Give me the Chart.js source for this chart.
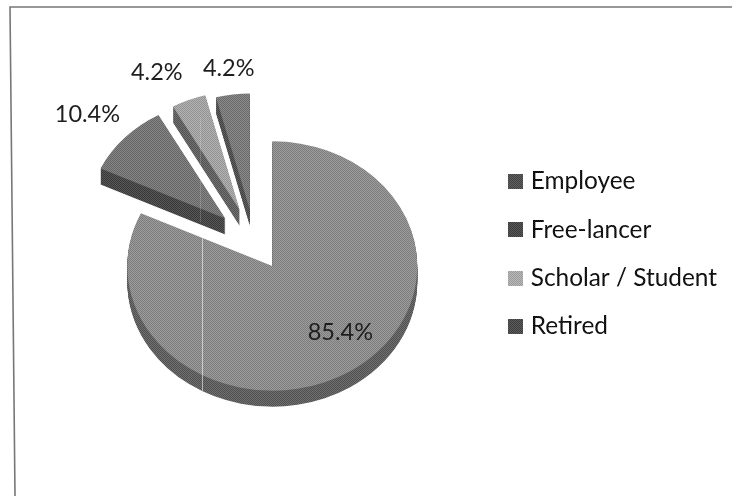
<!DOCTYPE html>
<html>
<head>
<meta charset="utf-8">
<style>html,body{margin:0;padding:0;background:#fff;overflow:hidden}#wrap{width:732px;height:496px;position:relative}</style>
<script src="https://cdn.jsdelivr.net/npm/chart.js@4"></script>
</head>
<body>
<div id="wrap"><canvas id="c" width="732" height="496"></canvas></div>
<script>
const categories = ["Employee", "Free-lancer", "Scholar / Student", "Retired"];
const values = [85.4, 10.4, 4.2, 4.2];
const valueLabels = ["85.4%", "10.4%", "4.2%", "4.2%"];

const topColors = ["#8e8e8e", "#747474", "#a8a8a8", "#7a7a7a"];
const sideColors = ["#5c5c5c", "#404040", "#5e5e5e", "#4c4c4c"];
const legendColors = ["#4a4a4a", "#424242", "#b0b0b0", "#454545"];
const explode = [33, 40, 40, 38];
const sliceScale = [1, 0.95, 0.95, 0.93];
const labelAngleDeg = [138.6, 311.2, 332.6, 352.7];
const labelRadius = [0.71, 1.264, 1.243, 1.142];

const tilt = 0.86, depth = 16, shiftY = -12;
const FONT = "Lato, 'Open Sans', sans-serif";

function tile() {
  const t = document.createElement('canvas'); t.width = t.height = 2;
  const g = t.getContext('2d');
  g.fillStyle = 'rgba(0,0,0,0.13)'; g.fillRect(0,0,1,1); g.fillRect(1,1,1,1);
  g.fillStyle = 'rgba(255,255,255,0.13)'; g.fillRect(1,0,1,1); g.fillRect(0,1,1,1);
  return t;
}

function swatch(color) {
  const t = document.createElement('canvas'); t.width = t.height = 15;
  const g = t.getContext('2d');
  g.fillStyle = color; g.fillRect(0, 0, 15, 15);
  return t;
}

const tiltedPie = {
  id: 'tiltedPie',
  beforeDatasetDraw() { return false; },
  afterDatasetsDraw(chart) {
    const ctx = chart.ctx, arcs = chart.getDatasetMeta(0).data;
    const place = (el, i, dy) => {
      const mid = (el.startAngle + el.endAngle) / 2;
      ctx.translate(0, dy + shiftY);
      ctx.translate(el.x, el.y); ctx.scale(1, tilt); ctx.translate(-el.x, -el.y);
      ctx.translate(Math.cos(mid) * explode[i], Math.sin(mid) * explode[i]);
      ctx.translate(el.x, el.y); ctx.scale(sliceScale[i], sliceScale[i]); ctx.translate(-el.x, -el.y);
    };
    arcs.forEach((el, i) => {
      const base = el.options;
      el.options = Object.create(base, {backgroundColor: {value: sideColors[i]}, borderColor: {value: sideColors[i]}});
      for (let d = depth; d >= 1; d--) { ctx.save(); place(el, i, d); el.draw(ctx); ctx.restore(); }
      el.options = base;
      ctx.save(); place(el, i, 0); el.draw(ctx); ctx.restore();
    });
    // halftone texture of the printed page, only over the painted slices
    ctx.save();
    ctx.globalCompositeOperation = 'source-atop';
    ctx.fillStyle = ctx.createPattern(tile(), 'repeat');
    ctx.fillRect(0, 0, chart.width, chart.height);
    ctx.restore();
    // page background behind everything
    ctx.save();
    ctx.globalCompositeOperation = 'destination-over';
    ctx.fillStyle = '#fff'; ctx.fillRect(0, 0, chart.width, chart.height);
    ctx.restore();
    // scan artefact
    ctx.save();
    ctx.strokeStyle = 'rgba(255,255,255,0.55)'; ctx.lineWidth = 1;
    ctx.beginPath(); ctx.moveTo(202.5, 238); ctx.lineTo(202.5, 391); ctx.stroke();
    ctx.strokeStyle = 'rgba(255,255,255,0.16)';
    ctx.beginPath(); ctx.moveTo(200.5, 118); ctx.lineTo(200.5, 222); ctx.stroke();
    ctx.restore();
    // frame (top and left only, slightly skewed as on the page)
    ctx.save();
    ctx.strokeStyle = '#777'; ctx.lineWidth = 1.6;
    ctx.beginPath(); ctx.moveTo(732, 7); ctx.lineTo(10, 7); ctx.lineTo(15, 496); ctx.stroke();
    ctx.restore();
    // value labels
    ctx.save();
    ctx.font = "23.5px " + FONT; ctx.fillStyle = '#1e1e1e';
    ctx.textAlign = 'center'; ctx.textBaseline = 'middle';
    arcs.forEach((el, i) => {
      const mid = (el.startAngle + el.endAngle) / 2;
      const a = (labelAngleDeg[i] - 90) * Math.PI / 180;
      const r = el.outerRadius * labelRadius[i];
      const x = el.x + Math.cos(mid) * explode[i] + Math.cos(a) * r;
      const y = el.y + shiftY + (Math.sin(mid) * explode[i] + Math.sin(a) * r) * tilt;
      ctx.fillText(valueLabels[i], x, y);
    });
    ctx.restore();
  }
};

new Chart(document.getElementById('c'), {
  type: 'pie',
  data: {
    labels: categories,
    datasets: [{ data: values, backgroundColor: topColors, borderWidth: 0 }]
  },
  options: {
    responsive: false,
    animation: false,
    radius: 145,
    layout: { padding: { top: 12, bottom: 0, left: 21.6, right: 5 } },
    plugins: {
      tooltip: { enabled: false },
      legend: {
        position: 'right',
        z: 1,
        labels: {
          font: { family: FONT, size: 24.4 },
          color: '#1e1e1e',
          padding: 24,
          usePointStyle: true,
          pointStyleWidth: 7,
          generateLabels(chart) {
            return chart.data.labels.map((t, i) => ({
              text: t, fillStyle: legendColors[i], strokeStyle: legendColors[i],
              lineWidth: 0, index: i, hidden: false, pointStyle: swatch(legendColors[i])
            }));
          }
        }
      }
    }
  },
  plugins: [tiltedPie]
});
</script>
</body>
</html>
